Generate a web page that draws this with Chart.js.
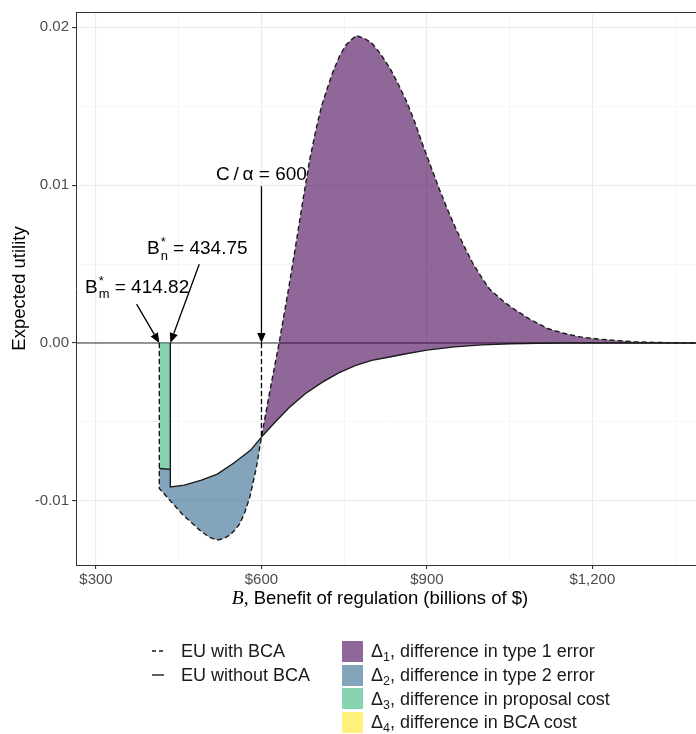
<!DOCTYPE html>
<html><head><meta charset="utf-8">
<script src="https://cdn.jsdelivr.net/npm/chart.js@4.4.1/dist/chart.umd.min.js"></script>
<style>
html,body{margin:0;padding:0;background:#fff;overflow:hidden}
#wrap{position:relative;width:696px;height:734px}
#c{position:absolute;left:0;top:0}
.lt{position:absolute;font-family:"Liberation Sans",Arial,sans-serif;font-size:18px;color:#1a1a1a;white-space:nowrap;line-height:22px;height:22px}
.lt sub{font-size:12.5px;vertical-align:baseline;position:relative;top:4px}
.sw{position:absolute;width:21px;height:21px}
.ls{position:absolute}
</style></head><body>
<div id="wrap">
<canvas id="c" width="696" height="734"></canvas>
<svg class="ls" style="left:150px;top:645px" width="16" height="12"><line x1="2" y1="6" x2="14" y2="6" stroke="#1a1a1a" stroke-width="1.4" stroke-dasharray="4 3"/></svg>
<svg class="ls" style="left:150px;top:669px" width="16" height="12"><line x1="2" y1="6" x2="14" y2="6" stroke="#1a1a1a" stroke-width="1.4"/></svg>
<div class="lt" style="left:181px;top:640px">EU with BCA</div>
<div class="lt" style="left:181px;top:664px">EU without BCA</div>
<div class="sw" style="left:342px;top:641px;background:rgba(68,1,84,0.6)"></div>
<div class="sw" style="left:342px;top:665px;background:rgba(49,104,142,0.6)"></div>
<div class="sw" style="left:342px;top:688px;background:rgba(53,183,121,0.6)"></div>
<div class="sw" style="left:342px;top:712px;background:rgba(253,231,37,0.6)"></div>
<div class="lt" style="left:371px;top:640px">Δ<sub>1</sub>, difference in type 1 error</div>
<div class="lt" style="left:371px;top:664px">Δ<sub>2</sub>, difference in type 2 error</div>
<div class="lt" style="left:371px;top:688px">Δ<sub>3</sub>, difference in proposal cost</div>
<div class="lt" style="left:371px;top:711px">Δ<sub>4</sub>, difference in BCA cost</div>
</div>
<script>
// ---- key thresholds ----
const bStarM = 414.82;     // B_m*
const bStarN = 434.75;     // B_n*
const cOverAlpha = 600;    // C/alpha

// ---- EU with BCA (dashed) ----
const withBCA_B = [414.82, 414.82, 435, 458, 488, 505, 519, 531, 543, 553, 561, 570, 579, 591, 600,
  616, 632, 650, 665, 676, 688, 700, 709, 720, 730, 742, 754, 763, 772, 786, 800, 816, 833, 848, 863,
  878, 893, 908, 923, 938, 953, 968, 984, 1000, 1014, 1040, 1060, 1087, 1120, 1150, 1180, 1210, 1245,
  1275, 1310, 1350, 1388];
const withBCA_EU = [0, -0.00922, -0.0100, -0.0109, -0.01185, -0.0123, -0.01248, -0.0124, -0.01216, -0.0118, -0.01143, -0.0107, -0.00975, -0.00785, -0.00596,
  -0.0029, 0, 0.0036, 0.0068, 0.0092, 0.0117, 0.0137, 0.0150, 0.0162, 0.0172, 0.0182, 0.0189, 0.0192, 0.01946, 0.0193, 0.0190, 0.0183, 0.0174, 0.0164, 0.0153,
  0.0140, 0.0125, 0.0111, 0.0097, 0.0084, 0.0072, 0.0061, 0.0050, 0.0041, 0.0034, 0.0026, 0.0021, 0.0015, 0.0009, 0.0006, 0.00037, 0.00025, 0.00015,
  0.00008, 0.00004, 0.00001, 0];

// ---- EU without BCA (solid) ----
const withoutBCA_B = [414.82, 434.75, 434.75, 460, 490, 520, 550, 580, 600, 625, 650, 680, 710, 740, 770,
  800, 830, 860, 900, 950, 1000, 1050, 1100, 1150, 1388];
const withoutBCA_EU = [-0.00795, -0.0080, -0.00911, -0.0090, -0.0087, -0.0083, -0.0076, -0.0068, -0.00596, -0.0050, -0.0041, -0.0032, -0.0025, -0.0019, -0.00143,
  -0.0011, -0.0009, -0.0007, -0.00045, -0.00025, -0.00012, -0.00005, -0.00002, 0, 0];

// ---- axes ----
const xRange = [263.7, 1388];
const yRange = [-0.01406, 0.02096];
const xTickValues = [300, 450, 600, 750, 900, 1050, 1200, 1350];
const xMajorTicks = [300, 600, 900, 1200];
const yTickValues = [-0.01, -0.005, 0, 0.005, 0.01, 0.015, 0.02];
const yMajorTicks = [-0.01, 0, 0.01, 0.02];

const FILL1 = 'rgba(68,1,84,0.6)', FILL2 = 'rgba(49,104,142,0.6)', FILL3 = 'rgba(53,183,121,0.6)';
const LINE = '#1a1a1a';
const SANS = '"Liberation Sans", Arial, sans-serif';

const dashedPts = withBCA_B.map((b, i) => ({x: b, y: withBCA_EU[i]}));
const solidPts = withoutBCA_B.map((b, i) => ({x: b, y: withoutBCA_EU[i]}));
const dashedAtC = dashedPts.find(p => p.x === cOverAlpha);

const poly1 = dashedPts.filter(p => p.x >= cOverAlpha).concat(solidPts.filter(p => p.x >= cOverAlpha).reverse());
const poly2 = solidPts.filter(p => p.x <= cOverAlpha).concat(dashedPts.slice(1).filter(p => p.x <= cOverAlpha).reverse());
const poly3 = [{x: bStarM, y: 0}, {x: bStarN, y: 0}, solidPts[1], solidPts[0]];

const isMajorX = v => xMajorTicks.includes(v);
const isMajorY = v => yMajorTicks.some(m => Math.abs(m - v) < 1e-9);

function drawRich(ctx, parts, cx, baseY, size) {
  const f = s => s + 'px ' + SANS;
  const widths = parts.map(p => {
    if (p.t !== undefined) { ctx.font = p.font || f(size); return ctx.measureText(p.t).width; }
    ctx.font = f(size * 0.68);
    return Math.max(ctx.measureText(p.sup || '').width, ctx.measureText(p.sub || '').width) + 1;
  });
  let x0 = cx - widths.reduce((a, b) => a + b, 0) / 2;
  ctx.textAlign = 'left'; ctx.textBaseline = 'alphabetic'; ctx.fillStyle = '#000';
  parts.forEach((p, i) => {
    if (p.t !== undefined) { ctx.font = p.font || f(size); ctx.fillText(p.t, x0, baseY); }
    else {
      ctx.font = f(size * 0.68);
      if (p.sup) ctx.fillText(p.sup, x0 + 1, baseY - size * 0.42);
      if (p.sub) ctx.fillText(p.sub, x0 + 1, baseY + size * 0.3);
    }
    x0 += widths[i];
  });
}

const annotations = {
  arrows: [
    {from: [cOverAlpha, 0.00993], to: [cOverAlpha, 0]},
    {from: [487.2, 0.00499], to: [bStarN, 0]},
    {from: [373.6, 0.00246], to: [bStarM, 0]}
  ],
  labels: [
    {at: [cOverAlpha, 0.0103], parts: [{t: 'C\u2009/\u2009α = 600'}]},
    {at: [483.6, 0.00562], parts: [{t: 'B'}, {sup: '*', sub: 'n'}, {t: ' = 434.75'}]},
    {at: [374.5, 0.00319], parts: [{t: 'B'}, {sup: '*', sub: 'm'}, {t: ' = 414.82'}]}
  ]
};

const annotPlugin = {
  id: 'annot',
  afterDatasetsDraw(chart) {
    const {ctx, scales: {x, y}, chartArea: a} = chart;
    ctx.save();
    ctx.strokeStyle = '#333'; ctx.lineWidth = 1;
    ctx.beginPath(); ctx.moveTo(a.left, a.top + 0.5); ctx.lineTo(a.right, a.top + 0.5); ctx.stroke();
    ctx.strokeStyle = '#000'; ctx.fillStyle = '#000'; ctx.lineWidth = 1.3;
    annotations.arrows.forEach(ar => {
      const x1 = x.getPixelForValue(ar.from[0]), y1 = y.getPixelForValue(ar.from[1]);
      const x2 = x.getPixelForValue(ar.to[0]), y2 = y.getPixelForValue(ar.to[1]);
      const th = Math.atan2(y2 - y1, x2 - x1), L = 10, W = 4.2;
      const bx = x2 - L * Math.cos(th), by = y2 - L * Math.sin(th);
      ctx.beginPath(); ctx.moveTo(x1, y1); ctx.lineTo(bx, by); ctx.stroke();
      ctx.beginPath(); ctx.moveTo(x2, y2);
      ctx.lineTo(bx + W * Math.sin(th), by - W * Math.cos(th));
      ctx.lineTo(bx - W * Math.sin(th), by + W * Math.cos(th));
      ctx.closePath(); ctx.fill();
    });
    annotations.labels.forEach(lb => {
      drawRich(ctx, lb.parts, x.getPixelForValue(lb.at[0]), y.getPixelForValue(lb.at[1]), 19);
    });
    // x-axis title
    drawRich(ctx, [{t: 'B', font: 'italic 19.5px "Liberation Serif", serif'}, {t: ',', font: '19.5px "Liberation Serif", serif'},
      {t: ' Benefit of regulation (billions of $)', font: '18.5px ' + SANS}], 380, 604, 18.5);
    ctx.restore();
  }
};

new Chart(document.getElementById('c'), {
  type: 'scatter',
  data: {
    datasets: [
      {label: 'zero', data: [{x: xRange[0], y: 0}, {x: xRange[1], y: 0}], showLine: true, borderColor: '#333', borderWidth: 1.1, pointRadius: 0, order: 10},
      {label: 'Δ3', data: poly3, showLine: true, fill: 'shape', backgroundColor: FILL3, borderWidth: 0, pointRadius: 0, order: 9},
      {label: 'Δ2', data: poly2, showLine: true, fill: 'shape', backgroundColor: FILL2, borderWidth: 0, pointRadius: 0, order: 8},
      {label: 'Δ1', data: poly1, showLine: true, fill: 'shape', backgroundColor: FILL1, borderWidth: 0, pointRadius: 0, order: 7},
      {label: 'EU without BCA', data: solidPts, showLine: true, borderColor: LINE, borderWidth: 1.4, pointRadius: 0, order: 3},
      {label: 'EU without BCA edge', data: [{x: bStarN, y: 0}, solidPts[1]], showLine: true, borderColor: LINE, borderWidth: 1.4, pointRadius: 0, order: 3},
      {label: 'EU with BCA', data: dashedPts, showLine: true, borderColor: LINE, borderWidth: 1.4, borderDash: [5, 3], pointRadius: 0, order: 2},
      {label: 'C/alpha drop', data: [{x: cOverAlpha, y: 0}, dashedAtC], showLine: true, borderColor: '#000', borderWidth: 1.3, borderDash: [5, 3], pointRadius: 0, order: 1}
    ]
  },
  options: {
    responsive: false, animation: false, devicePixelRatio: 1,
    layout: {padding: {left: 5, top: 10, right: 0, bottom: 119}},
    plugins: {legend: {display: false}, tooltip: {enabled: false}},
    scales: {
      x: {
        type: 'linear', min: xRange[0], max: xRange[1],
        afterBuildTicks: s => { s.ticks = xTickValues.map(v => ({value: v})); },
        afterFit: s => { s.height = 50; },
        ticks: {
          autoSkip: false, maxRotation: 0, padding: 2, color: '#4D4D4D', font: {family: SANS, size: 15},
          callback: v => isMajorX(v) ? '$' + v.toLocaleString('en-US') : ''
        },
        grid: {
          color: c => isMajorX(c.tick.value) ? '#EBEBEB' : '#F4F4F4',
          lineWidth: c => isMajorX(c.tick.value) ? 1.1 : 0.8,
          tickLength: 4,
          tickColor: c => isMajorX(c.tick.value) ? '#333' : 'rgba(0,0,0,0)'
        },
        border: {color: '#333', width: 1}
      },
      y: {
        type: 'linear', min: yRange[0], max: yRange[1],
        afterBuildTicks: s => { s.ticks = yTickValues.map(v => ({value: v})); },
        afterFit: s => { s.width = 71; },
        title: {display: true, text: 'Expected utility', color: '#000', font: {family: SANS, size: 18.5}, padding: {top: 4, bottom: 4}},
        ticks: {
          padding: 3, color: '#4D4D4D', font: {family: SANS, size: 15},
          callback: v => isMajorY(v) ? (Math.abs(v) < 1e-12 ? '0.00' : v.toFixed(2)) : ''
        },
        grid: {
          color: c => isMajorY(c.tick.value) ? '#EBEBEB' : '#F4F4F4',
          lineWidth: c => isMajorY(c.tick.value) ? 1.1 : 0.8,
          tickLength: 4,
          tickColor: c => isMajorY(c.tick.value) ? '#333' : 'rgba(0,0,0,0)'
        },
        border: {color: '#333', width: 1}
      }
    }
  },
  plugins: [annotPlugin]
});
</script>
</body></html>
